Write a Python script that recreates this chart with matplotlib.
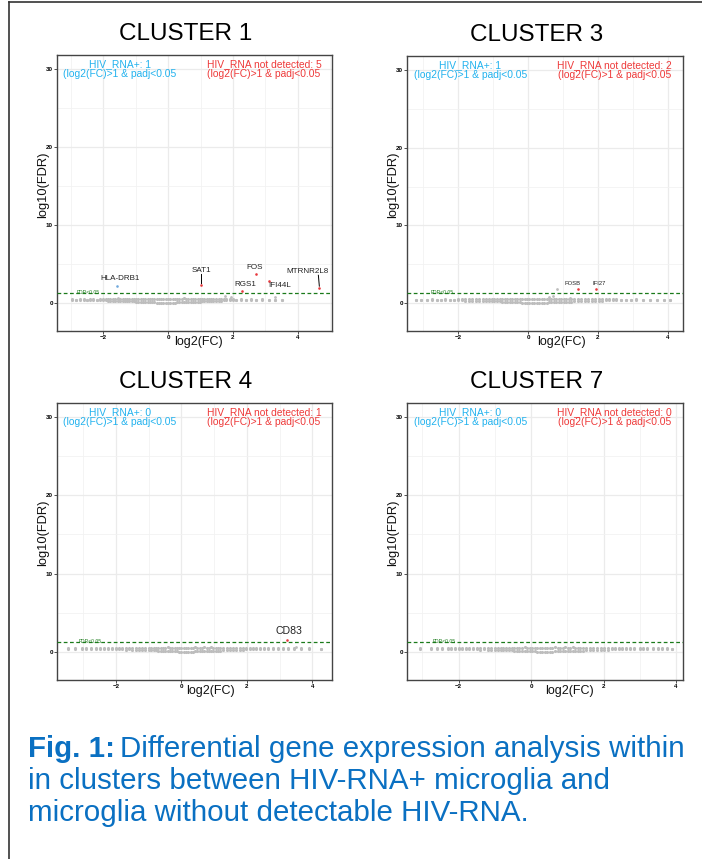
import matplotlib
matplotlib.use("Agg")
import matplotlib.pyplot as plt
from matplotlib.lines import Line2D

plt.rcParams['font.family'] = ['Liberation Sans', 'DejaVu Sans']

# ---- data ----
titles = ["CLUSTER 1", "CLUSTER 3", "CLUSTER 4", "CLUSTER 7"]
n_hiv_pos = [1, 1, 0, 0]
n_hiv_neg = [5, 2, 1, 0]

# shared shape of the grey (non-significant) band: low / high edge of the cloud
band_ylo = [0.40, 0.42, 0.38, 0.41, 0.40, 0.39, 0.42, 0.38, 0.40, 0.37,
            0.33, 0.30, 0.31, 0.28, 0.30, 0.27, 0.28, 0.26, 0.25, 0.27, 0.24, 0.23, 0.22,
            0.18, 0.16, 0.15, 0.13, 0.12, 0.10, 0.09, 0.08, 0.06, 0.05, 0.04, 0.03, 0.02, 0.02,
            0.02, 0.03, 0.04, 0.05, 0.06, 0.07, 0.08, 0.09, 0.10, 0.12, 0.13, 0.14, 0.15, 0.16, 0.17,
            0.20, 0.22, 0.23, 0.25, 0.26, 0.27, 0.29, 0.30, 0.31, 0.33, 0.34, 0.35, 0.36,
            0.38, 0.37, 0.40, 0.39, 0.41, 0.38, 0.40, 0.42, 0.40]
band_yhi = [0.45, 0.44, 0.45, 0.46, 0.44, 0.45, 0.46, 0.44, 0.45, 0.46,
            0.48, 0.50, 0.47, 0.52, 0.49, 0.51, 0.50, 0.53, 0.50, 0.52, 0.51, 0.54, 0.52,
            0.52, 0.55, 0.50, 0.54, 0.53, 0.56, 0.52, 0.55, 0.50, 0.53, 0.55, 0.51, 0.54, 0.50,
            0.52, 0.55, 0.53, 0.56, 0.52, 0.55, 0.53, 0.57, 0.54, 0.52, 0.56, 0.53, 0.55, 0.52, 0.54,
            0.52, 0.50, 0.53, 0.49, 0.52, 0.50, 0.48, 0.51, 0.49, 0.47, 0.50, 0.48, 0.46,
            0.44, 0.45, 0.43, 0.46, 0.44, 0.45, 0.43, 0.44, 0.42]

c1_bg_x = [-2.95, -2.85, -2.7, -2.6, -2.5, -2.4, -2.3, -2.2, -2.1, -2.0,
           -1.92, -1.85, -1.78, -1.7, -1.62, -1.55, -1.48, -1.4, -1.33, -1.26, -1.19, -1.12, -1.05,
           -0.98, -0.91, -0.84, -0.77, -0.7, -0.63, -0.56, -0.49, -0.42, -0.35, -0.28, -0.21, -0.14, -0.07,
           0.0, 0.07, 0.14, 0.21, 0.28, 0.35, 0.42, 0.49, 0.56, 0.63, 0.7, 0.77, 0.84, 0.91, 0.98,
           1.05, 1.12, 1.19, 1.26, 1.33, 1.4, 1.48, 1.56, 1.64, 1.72, 1.8, 1.9, 2.0,
           2.1, 2.25, 2.4, 2.55, 2.7, 2.9, 3.1, 3.3, 3.5]
c3_bg_x = [-3.2, -3.05, -2.9, -2.75, -2.6, -2.48, -2.36, -2.24, -2.12, -2.0,
           -1.9, -1.8, -1.7, -1.6, -1.5, -1.4, -1.3, -1.2, -1.12, -1.04, -0.96, -0.88, -0.8,
           -0.73, -0.66, -0.59, -0.52, -0.45, -0.38, -0.31, -0.24, -0.17, -0.1, -0.03, 0.04, 0.11, 0.18,
           0.25, 0.32, 0.39, 0.46, 0.53, 0.6, 0.67, 0.74, 0.81, 0.88, 0.95, 1.02, 1.09, 1.16, 1.23,
           1.32, 1.42, 1.52, 1.62, 1.72, 1.82, 1.92, 2.02, 2.12, 2.22, 2.32, 2.42, 2.52,
           2.65, 2.8, 2.95, 3.1, 3.3, 3.5, 3.7, 3.9, 4.05]
c4_bg_x = [-3.45, -3.25, -3.05, -2.9, -2.75, -2.6, -2.48, -2.36, -2.24, -2.12,
           -2.0, -1.9, -1.8, -1.7, -1.6, -1.5, -1.4, -1.3, -1.2, -1.1, -1.0, -0.92, -0.84,
           -0.77, -0.7, -0.63, -0.56, -0.49, -0.42, -0.35, -0.28, -0.21, -0.14, -0.07, 0.0, 0.07, 0.14,
           0.21, 0.28, 0.35, 0.42, 0.49, 0.56, 0.63, 0.7, 0.77, 0.84, 0.91, 0.98, 1.05, 1.12, 1.19,
           1.28, 1.38, 1.48, 1.58, 1.68, 1.78, 1.88, 1.98, 2.08, 2.18, 2.28, 2.4, 2.52,
           2.65, 2.8, 2.95, 3.1, 3.25, 3.45, 3.65, 3.9, 4.25]
c7_bg_x = [-3.06, -2.75, -2.6, -2.45, -2.3, -2.2, -2.1, -2.0, -1.9, -1.8,
           -1.7, -1.6, -1.5, -1.4, -1.3, -1.2, -1.1, -1.0, -0.92, -0.84, -0.76, -0.68, -0.6,
           -0.53, -0.46, -0.39, -0.32, -0.25, -0.18, -0.11, -0.04, 0.03, 0.1, 0.17, 0.24, 0.31, 0.38,
           0.45, 0.52, 0.59, 0.66, 0.73, 0.8, 0.87, 0.94, 1.01, 1.08, 1.15, 1.22, 1.29, 1.36, 1.43,
           1.52, 1.62, 1.72, 1.82, 1.92, 2.02, 2.12, 2.22, 2.32, 2.42, 2.52, 2.62, 2.72,
           2.85, 3.0, 3.1, 3.2, 3.35, 3.5, 3.6, 3.75, 3.88]

# a few grey genes sitting a little above the band
c1_extra_x = [-1.54, 1.75, 1.95, 3.3]
c1_extra_y = [0.64, 0.85, 0.75, 0.7]
c3_extra_x = [0.82, 0.6, 0.7, 1.2]
c3_extra_y = [1.76, 0.8, 0.9, 0.7]
c4_extra_x = [3.5]
c4_extra_y = [0.6]
c7_extra_x = []
c7_extra_y = []

# significant genes
c1_genes = ["HLA-DRB1", "SAT1", "FOS", "RGS1", "IFI44L", "MTRNR2L8"]
c1_fc = [-1.56, 1.02, 2.70, 2.28, 3.10, 4.66]
c1_fdr = [2.2, 2.35, 3.68, 1.54, 2.82, 1.96]
c3_genes = ["FOSB", "IFI27"]
c3_fc = [1.43, 1.93]
c3_fdr = [1.76, 1.76]
c4_genes = ["CD83"]
c4_fc = [3.23]
c4_fdr = [1.5]
c7_genes = []
c7_fc = []
c7_fdr = []

fdr_line = 1.301  # -log10(0.05)

# ---- layout ----
W, H = 702, 859
fig = plt.figure(figsize=(W / 100, H / 100), dpi=100)

BLUE = '#22B2EE'
RED = '#EE3A3A'
GREY = '#BDBDBD'
GREEN = '#1A7A1A'
CAP = '#0A70C2'

panels = [
    dict(px=(57, 55, 332, 331), xlim=(-3.42, 5.05), bgx=c1_bg_x, ex=(c1_extra_x, c1_extra_y),
         genes=c1_genes, fc=c1_fc, fdr=c1_fdr, fdr_txt_x=-2.45, lab_fs=5.8,
         lab_pos=[(-1.48, 3.08), (1.02, 4.1), (2.68, 4.5), (2.37, 2.35), (3.45, 2.27), (4.31, 3.97)],
         segs=[None, (3.7, 2.55), None, None, None, (3.55, 2.15)], xlab=0.516, title_x=186),
    dict(px=(407, 56, 683, 331), xlim=(-3.46, 4.43), bgx=c3_bg_x, ex=(c3_extra_x, c3_extra_y),
         genes=c3_genes, fc=c3_fc, fdr=c3_fdr, fdr_txt_x=-2.45, lab_fs=4.2,
         lab_pos=[(1.27, 2.5), (2.02, 2.5)], segs=[None, None], xlab=0.561, title_x=537),
    dict(px=(57, 403, 332, 680), xlim=(-3.8, 4.6), bgx=c4_bg_x, ex=(c4_extra_x, c4_extra_y),
         genes=c4_genes, fc=c4_fc, fdr=c4_fdr, fdr_txt_x=-2.8, lab_fs=7.6,
         lab_pos=[(3.27, 2.72)], segs=[None], xlab=0.558, title_x=186),
    dict(px=(407, 403, 683, 680), xlim=(-3.42, 4.19), bgx=c7_bg_x, ex=(c7_extra_x, c7_extra_y),
         genes=c7_genes, fc=c7_fc, fdr=c7_fdr, fdr_txt_x=-2.41, lab_fs=6,
         lab_pos=[], segs=[], xlab=0.59, title_x=537),
]

for i, p in enumerate(panels):
    x0, y0, x1, y1 = p['px']
    ax = fig.add_axes([x0 / W, 1 - y1 / H, (x1 - x0) / W, (y1 - y0) / H])
    ax.set_xticks([-2, 0, 2, 4])
    ax.set_yticks([0, 10, 20, 30])
    ax.set_xticks([-3, -1, 1, 3, 5], minor=True)
    ax.set_yticks([5, 15, 25], minor=True)
    ax.set_xlim(*p['xlim'])
    ax.set_ylim(-3.6, 31.8)
    ax.grid(True, which='major', color='#EBEBEB', linewidth=0.9)
    ax.grid(True, which='minor', color='#F2F2F2', linewidth=0.6)
    ax.set_axisbelow(True)
    ax.tick_params(which='major', length=2, width=0.6, color='#333333', pad=1,
                   labelsize=4.5, labelcolor='black')
    ax.tick_params(which='minor', length=0)
    for lab in ax.get_xticklabels() + ax.get_yticklabels():
        lab.set_fontweight('bold')
    for sp in ax.spines.values():
        sp.set_color('#444444')
        sp.set_linewidth(1.0)

    # grey cloud
    ax.scatter(p['bgx'], band_ylo, s=5, color=GREY, linewidths=0, zorder=2)
    ax.scatter(p['bgx'], band_yhi, s=5, color=GREY, linewidths=0, zorder=2)
    ax.scatter(p['ex'][0], p['ex'][1], s=4, color=GREY, linewidths=0, zorder=2)

    # threshold
    ax.axhline(fdr_line, color=GREEN, linestyle=(0, (3, 2)), linewidth=0.9, zorder=3)
    ax.text(p['fdr_txt_x'], fdr_line, "FDR<0.05", color=GREEN, fontsize=3.6,
            ha='center', va='center', zorder=4)

    # significant genes
    for j, g in enumerate(p['genes']):
        col = '#6FA8DC' if p['fc'][j] < 0 else '#E8383D'
        ax.scatter([p['fc'][j]], [p['fdr'][j]], s=3.5, color=col, linewidths=0, zorder=5)
        lx, ly = p['lab_pos'][j]
        ax.text(lx, ly, g, fontsize=p['lab_fs'], color='#222222', ha='center', va='center', zorder=6)
        if p['segs'][j] is not None:
            ax.plot([p['fc'][j] - 0.03 if g == "MTRNR2L8" else p['fc'][j], p['fc'][j]],
                    list(p['segs'][j]), color='black', linewidth=0.7, zorder=4)

    # summary texts
    ax.text(0.229, 0.949, "HIV_RNA+: %d\n(log2(FC)>1 & padj<0.05" % n_hiv_pos[i],
            transform=ax.transAxes, ha='center', va='center', color=BLUE, fontsize=7.4,
            linespacing=1.0)
    ax.text(0.753, 0.949, "HIV_RNA not detected: %d\n(log2(FC)>1 & padj<0.05" % n_hiv_neg[i],
            transform=ax.transAxes, ha='center', va='center', color=RED, fontsize=7.4,
            linespacing=1.0)

    ax.text(p['xlab'], -0.04, "log2(FC)", transform=ax.transAxes, ha='center', va='center',
            fontsize=9.0, color='#111111')
    ax.text(-0.05, 0.53, "log10(FDR)", transform=ax.transAxes, ha='center', va='center',
            rotation=90, fontsize=9.3, color='#111111')

    fig.text(p['title_x'] / W, 1 - (y0 - 21) / H, titles[i], ha='center', va='center',
             fontsize=17.5, color='black')

# caption
cap_fs = 21.25
cap_lines = ["Differential gene expression analysis within",
             "in clusters between HIV-RNA+ microglia and",
             "microglia without detectable HIV-RNA."]
t = fig.text(28 / W, 1 - 749 / H, "Fig. 1:", color=CAP, fontsize=cap_fs,
             fontweight='bold', ha='left', va='center')
fig.canvas.draw()
bb = t.get_window_extent()
fig.text((bb.x1 + 5) / W, 1 - 749 / H, cap_lines[0], color=CAP, fontsize=cap_fs,
         ha='left', va='center')
fig.text(28 / W, 1 - 781 / H, cap_lines[1], color=CAP, fontsize=cap_fs,
         ha='left', va='center')
fig.text(28 / W, 1 - 813 / H, cap_lines[2], color=CAP, fontsize=cap_fs,
         ha='left', va='center')

# outer frame (left and top edges)
fig.add_artist(Line2D([8.5 / W, 8.5 / W], [0, 1 - 1.5 / H], transform=fig.transFigure,
                      color='#333333', linewidth=1.2))
fig.add_artist(Line2D([8.5 / W, 1], [1 - 1.5 / H, 1 - 1.5 / H], transform=fig.transFigure,
                      color='#333333', linewidth=1.2))

fig.savefig("out.png", dpi=100)
